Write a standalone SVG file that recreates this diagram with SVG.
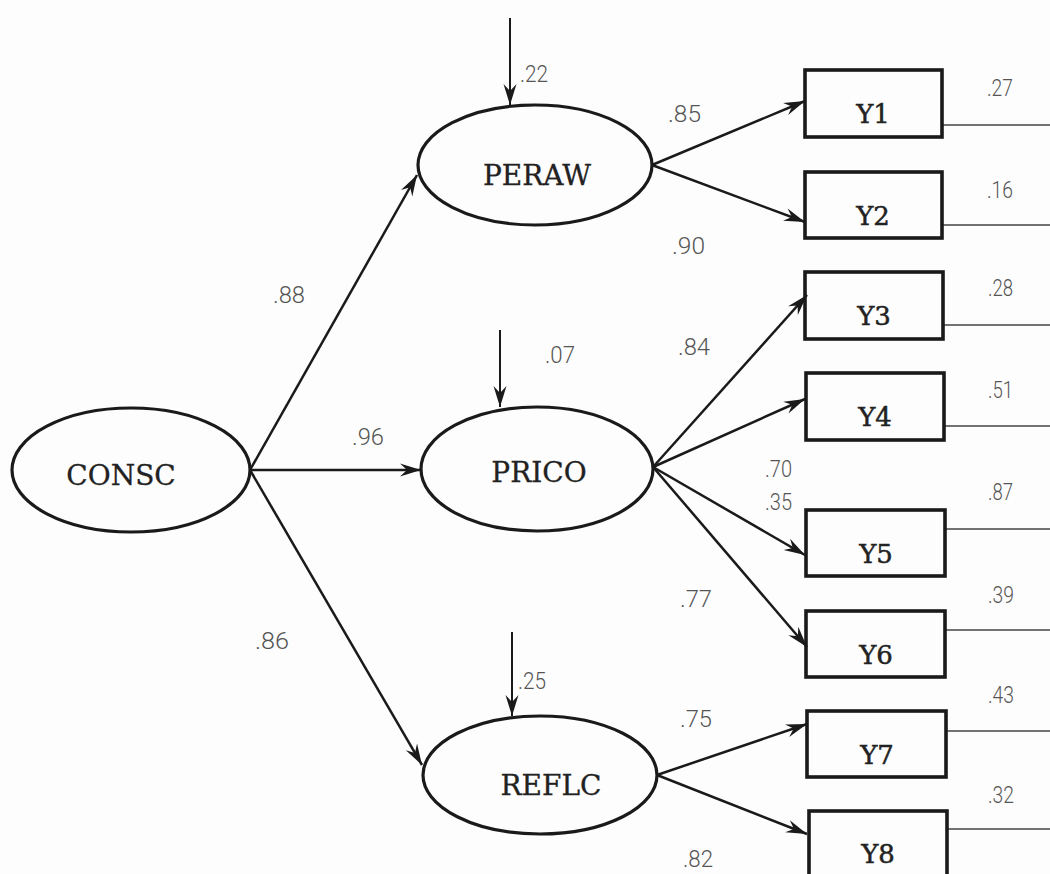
<svg xmlns="http://www.w3.org/2000/svg" width="1050" height="874" viewBox="0 0 1050 874">
<defs>
<marker id="ah" markerUnits="userSpaceOnUse" viewBox="-22 -8 24 16" refX="0" refY="0" markerWidth="24" markerHeight="16" orient="auto">
<path d="M0,0 L-21,-6.5 L-14,0 L-21,6.5 Z" fill="#1a1a1a"/>
</marker>
</defs>
<style>
.bg{fill:#fdfdfd}
.ell{fill:none;stroke:#1a1a1a;stroke-width:3.2}
.box{fill:none;stroke:#1a1a1a;stroke-width:3.6}
.lbl{font-family:"DejaVu Serif",serif;font-size:28px;fill:#222;stroke:#222;stroke-width:0.3;text-anchor:middle}
.blbl{font-family:"DejaVu Serif",serif;font-size:26px;fill:#222;stroke:#222;stroke-width:0.5;text-anchor:middle}
.num{font-family:"Roboto","Liberation Sans",sans-serif;font-weight:300;font-size:24px;fill:#555}
.arr{stroke:#1a1a1a;stroke-width:2.5;fill:none;marker-end:url(#ah)}
.dist{stroke:#1a1a1a;stroke-width:2;fill:none;marker-end:url(#ah)}
.err{stroke:#444;stroke-width:1.6;fill:none}
</style>
<rect class="bg" x="0" y="0" width="1050" height="874"/>
<g id="connectors">
<line class="dist" x1="510" y1="18" x2="510" y2="105"/>
<line class="dist" x1="500" y1="330" x2="500" y2="407"/>
<line class="dist" x1="512" y1="632" x2="512" y2="716"/>
<line class="arr" x1="250" y1="470" x2="417" y2="175"/>
<line class="arr" x1="250" y1="470" x2="421" y2="470"/>
<line class="arr" x1="250" y1="470" x2="422" y2="765"/>
<line class="arr" x1="652" y1="165" x2="805" y2="101"/>
<line class="arr" x1="652" y1="165" x2="805" y2="222"/>
<line class="arr" x1="653" y1="467" x2="807" y2="295"/>
<line class="arr" x1="653" y1="467" x2="805" y2="399"/>
<line class="arr" x1="653" y1="467" x2="805" y2="555"/>
<line class="arr" x1="653" y1="467" x2="807" y2="647"/>
<line class="arr" x1="657" y1="775" x2="807" y2="724"/>
<line class="arr" x1="657" y1="775" x2="807" y2="834"/>
<line class="err" x1="942" y1="125" x2="1050" y2="125"/>
<line class="err" x1="942" y1="225" x2="1050" y2="225"/>
<line class="err" x1="943" y1="325" x2="1050" y2="325"/>
<line class="err" x1="944" y1="426" x2="1050" y2="426"/>
<line class="err" x1="945" y1="529" x2="1050" y2="529"/>
<line class="err" x1="945" y1="630" x2="1050" y2="630"/>
<line class="err" x1="946" y1="731" x2="1050" y2="731"/>
<line class="err" x1="947" y1="829" x2="1050" y2="829"/>
</g>
<g id="CONSC"><ellipse class="ell" cx="131" cy="470" rx="119" ry="62"/><text class="lbl" x="121" y="485">CONSC</text></g>
<g id="PERAW"><ellipse class="ell" cx="535" cy="165" rx="117" ry="60"/><text class="lbl" x="537" y="185">PERAW</text></g>
<g id="PRICO"><ellipse class="ell" cx="537" cy="469" rx="116" ry="62"/><text class="lbl" x="539" y="482">PRICO</text></g>
<g id="REFLC"><ellipse class="ell" cx="540" cy="775" rx="117" ry="59"/><text class="lbl" x="551" y="795">REFLC</text></g>
<g id="Y1"><rect class="box" x="805" y="70" width="137" height="67"/><text class="blbl" x="873" y="123">Y1</text></g>
<g id="Y2"><rect class="box" x="805" y="172" width="137" height="66"/><text class="blbl" x="873" y="225">Y2</text></g>
<g id="Y3"><rect class="box" x="805" y="272" width="138" height="67"/><text class="blbl" x="874" y="325">Y3</text></g>
<g id="Y4"><rect class="box" x="806" y="373" width="138" height="67"/><text class="blbl" x="875" y="426">Y4</text></g>
<g id="Y5"><rect class="box" x="806" y="510" width="139" height="66"/><text class="blbl" x="876" y="563">Y5</text></g>
<g id="Y6"><rect class="box" x="806" y="611" width="139" height="66"/><text class="blbl" x="876" y="664">Y6</text></g>
<g id="Y7"><rect class="box" x="807" y="711" width="139" height="66"/><text class="blbl" x="877" y="764">Y7</text></g>
<g id="Y8"><rect class="box" x="809" y="811" width="138" height="70"/><text class="blbl" x="878" y="863">Y8</text></g>
<g id="labels">
<text class="num" x="520" y="82" textLength="28" lengthAdjust="spacingAndGlyphs">.22</text>
<text class="num" x="668" y="122" textLength="33" lengthAdjust="spacingAndGlyphs">.85</text>
<text class="num" x="672" y="254" textLength="33" lengthAdjust="spacingAndGlyphs">.90</text>
<text class="num" x="273" y="303" textLength="32" lengthAdjust="spacingAndGlyphs">.88</text>
<text class="num" x="545" y="363" textLength="30" lengthAdjust="spacingAndGlyphs">.07</text>
<text class="num" x="678" y="355" textLength="32" lengthAdjust="spacingAndGlyphs">.84</text>
<text class="num" x="352" y="445" textLength="32" lengthAdjust="spacingAndGlyphs">.96</text>
<text class="num" x="765" y="477" textLength="27" lengthAdjust="spacingAndGlyphs">.70</text>
<text class="num" x="765" y="510" textLength="27" lengthAdjust="spacingAndGlyphs">.35</text>
<text class="num" x="680" y="607" textLength="32" lengthAdjust="spacingAndGlyphs">.77</text>
<text class="num" x="255" y="649" textLength="34" lengthAdjust="spacingAndGlyphs">.86</text>
<text class="num" x="518" y="689" textLength="28" lengthAdjust="spacingAndGlyphs">.25</text>
<text class="num" x="680" y="727" textLength="32" lengthAdjust="spacingAndGlyphs">.75</text>
<text class="num" x="683" y="867" textLength="30" lengthAdjust="spacingAndGlyphs">.82</text>
<text class="num" x="987" y="96" textLength="26" lengthAdjust="spacingAndGlyphs">.27</text>
<text class="num" x="987" y="198" textLength="26" lengthAdjust="spacingAndGlyphs">.16</text>
<text class="num" x="988" y="296" textLength="25" lengthAdjust="spacingAndGlyphs">.28</text>
<text class="num" x="988" y="398" textLength="25" lengthAdjust="spacingAndGlyphs">.51</text>
<text class="num" x="988" y="500" textLength="25" lengthAdjust="spacingAndGlyphs">.87</text>
<text class="num" x="988" y="603" textLength="26" lengthAdjust="spacingAndGlyphs">.39</text>
<text class="num" x="988" y="703" textLength="26" lengthAdjust="spacingAndGlyphs">.43</text>
<text class="num" x="988" y="803" textLength="26" lengthAdjust="spacingAndGlyphs">.32</text>
</g>
</svg>
